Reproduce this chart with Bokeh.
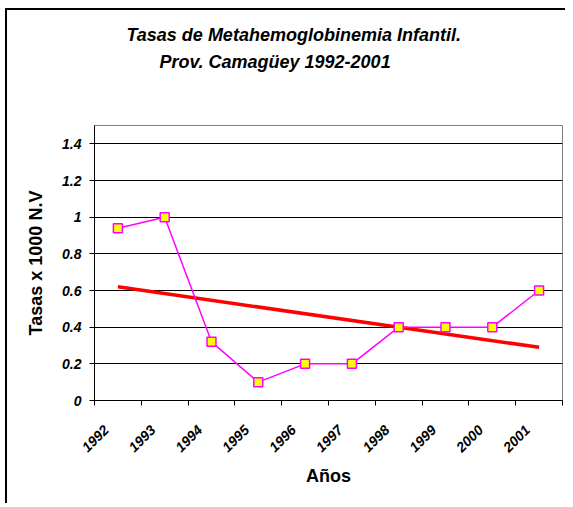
from math import pi
from bokeh.plotting import figure
from bokeh.models import Range1d, FixedTicker, Title
from bokeh.embed import file_html
from bokeh.resources import INLINE

# ---- data ----
years = [1992, 1993, 1994, 1995, 1996, 1997, 1998, 1999, 2000, 2001]
rates = [0.94, 1.0, 0.32, 0.1, 0.2, 0.2, 0.4, 0.4, 0.4, 0.6]
trend_years = [1992, 2001]
trend_rates = [0.62, 0.29]
y_ticks = [0, 0.2, 0.4, 0.6, 0.8, 1, 1.2, 1.4]
y_tick_labels = ["0", "0.2", "0.4", "0.6", "0.8", "1", "1.2", "1.4"]
x_tick_labels = ["1992", "1993", "1994", "1995", "1996", "1997", "1998", "1999", "2000", "2001"]
title_line1 = "Tasas de Metahemoglobinemia Infantil."
title_line2 = "Prov. Camagüey 1992-2001"
y_label = "Tasas x 1000 N.V"
x_label = "Años"

FONT = "Liberation Sans"

boundaries = [y - 0.5 for y in years] + [years[-1] + 0.5]
# labels anchored slightly left of the category centre, as in the reference
label_pos = [y - 0.25 for y in years]

p = figure(width=560, height=495, output_backend="svg", toolbar_location=None,
           x_range=Range1d(years[0] - 0.5, years[-1] + 0.5), y_range=Range1d(0, 1.5),
           min_border_left=87, min_border_right=5, min_border_top=115, min_border_bottom=105)
p.styles = {"border-left": "2px solid black", "border-top": "2px solid black",
            "margin-left": "5px", "margin-top": "8px"}
p.background_fill_color = "white"
p.border_fill_color = "white"
p.outline_line_color = "#808080"
p.outline_line_width = 1

p.title.text = title_line1
p.title.align = "left"
p.title.offset = 32
p.title.standoff = 5
p.title.text_font = FONT
p.title.text_font_size = "18px"
p.title.text_font_style = "bold italic"
p.title.text_color = "black"

# spacer between the title block and the plot area (innermost)
spacer = Title(text=" ", standoff=30, text_font=FONT, text_font_size="17px")
p.add_layout(spacer, "above")
t2 = Title(text=title_line2, align="left", offset=65, standoff=5, text_font=FONT,
           text_font_size="18px", text_font_style="bold italic", text_color="black")
p.add_layout(t2, "above")

# grid
p.xgrid.visible = False
p.ygrid.ticker = FixedTicker(ticks=y_ticks)
p.ygrid.grid_line_color = "black"
p.ygrid.grid_line_width = 1

# x axis
p.xaxis.ticker = FixedTicker(ticks=label_pos, minor_ticks=boundaries)
p.xaxis.major_label_overrides = dict(zip(label_pos, x_tick_labels))
p.xaxis.major_tick_out = 0
p.xaxis.major_tick_in = 0
p.xaxis.minor_tick_out = 5
p.xaxis.minor_tick_in = 0
p.xaxis.minor_tick_line_color = "black"
p.xaxis.major_label_orientation = pi / 4
p.xaxis.axis_label = x_label
p.xaxis.axis_label_text_font = FONT
p.xaxis.axis_label_text_font_size = "18px"
p.xaxis.axis_label_text_font_style = "bold"
p.xaxis.axis_label_standoff = 6

# y axis
p.yaxis.ticker = FixedTicker(ticks=y_ticks)
p.yaxis.major_label_overrides = dict(zip(y_ticks, y_tick_labels))
p.yaxis.major_tick_out = 5
p.yaxis.major_tick_in = 0
p.yaxis.minor_tick_out = 0
p.yaxis.minor_tick_in = 0
p.yaxis.axis_label = y_label
p.yaxis.axis_label_text_font = FONT
p.yaxis.axis_label_text_font_size = "18px"
p.yaxis.axis_label_text_font_style = "bold"
p.yaxis.axis_label_standoff = 13

for ax in (p.xaxis, p.yaxis):
    ax.axis_line_color = "black"
    ax.major_tick_line_color = "black"
    ax.major_label_text_font = FONT
    ax.major_label_text_font_size = "14px"
    ax.major_label_text_font_style = "bold italic"
    ax.major_label_text_color = "black"
    ax.axis_label_text_color = "black"
p.yaxis.major_label_standoff = 8
p.xaxis.major_label_standoff = 22

# data
p.line(trend_years, trend_rates, line_color="#FF0000", line_width=3.5)
p.line(years, rates, line_color="#FF00FF", line_width=1.5)
p.scatter(years, rates, marker="square", size=9, fill_color="#FFFF00",
          line_color="#FF00FF", line_width=1.5)

open("out.html", "w").write(file_html(p, INLINE))
